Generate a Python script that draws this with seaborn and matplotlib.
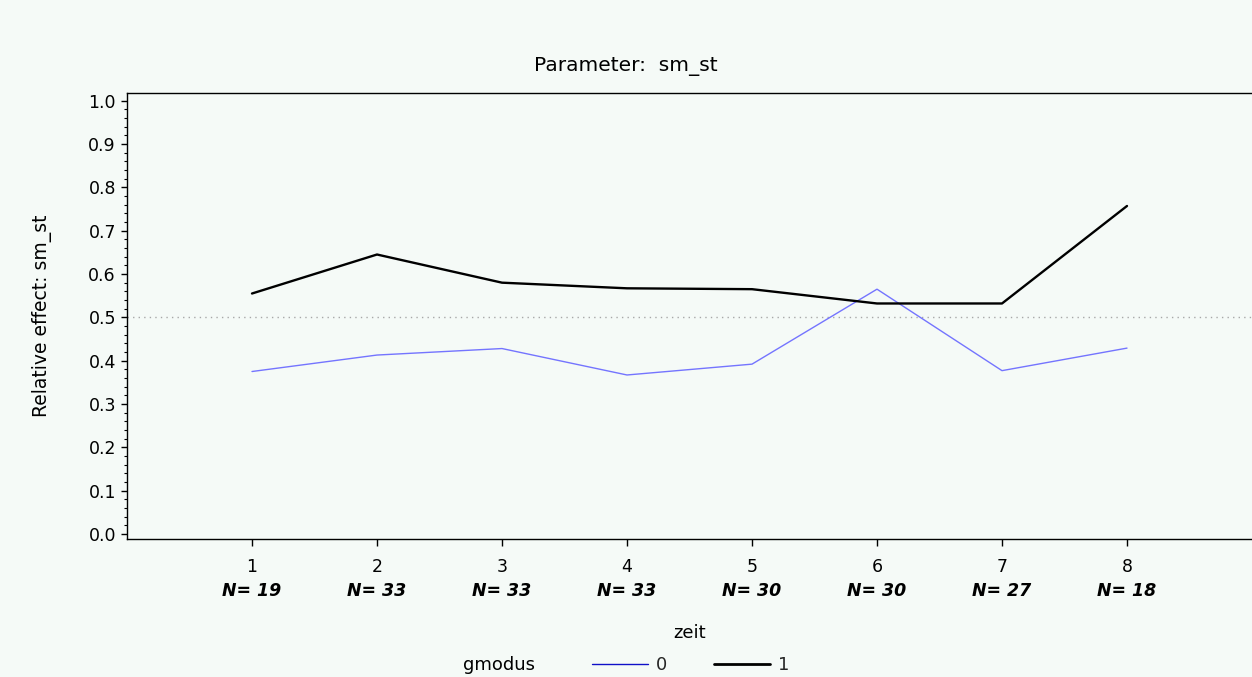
import pandas as pd
import numpy as np
import matplotlib
matplotlib.use('Agg')
import matplotlib.pyplot as plt
import matplotlib.transforms as mtransforms
from matplotlib.lines import Line2D
from matplotlib.ticker import MultipleLocator, AutoMinorLocator
import seaborn as sns

# Data
zeit = [1, 2, 3, 4, 5, 6, 7, 8]
n_counts = [19, 33, 33, 33, 30, 30, 27, 18]
effect_g0 = [0.375, 0.413, 0.428, 0.367, 0.392, 0.565, 0.377, 0.429]
effect_g1 = [0.555, 0.645, 0.580, 0.567, 0.565, 0.532, 0.532, 0.757]
y_ticks = [0.0, 0.1, 0.2, 0.3, 0.4, 0.5, 0.6, 0.7, 0.8, 0.9, 1.0]

df = pd.DataFrame({
    'zeit': zeit * 2,
    'effect': effect_g0 + effect_g1,
    'gmodus': ['0'] * len(zeit) + ['1'] * len(zeit),
})

bg = '#f5faf7'
sns.set_theme(style='ticks')
plt.rcParams['font.family'] = ['DejaVu Sans']

fig = plt.figure(figsize=(12.52, 6.77), dpi=100, facecolor=bg)
ax = fig.add_axes([127 / 1252, 1 - 539 / 677, 1 - 127 / 1252, (539 - 93) / 677])
ax.set_facecolor(bg)

palette = {'0': '#7474ff', '1': '#000000'}
sns.lineplot(data=df, x='zeit', y='effect', hue='gmodus', size='gmodus',
             sizes={'0': 1.0, '1': 1.7}, palette=palette, legend=False, ax=ax)

# reference line at 0.5
ax.axhline(0.5, color='#a8a8a8', linestyle=(0, (1, 3)), linewidth=1, zorder=0)

ax.set_xlim(0, 9)
ax.set_ylim(-0.0115, 1.0177)
ax.set_xticks(zeit)
ax.set_xticklabels([str(z) for z in zeit])
ax.set_yticks(y_ticks)
ax.set_yticklabels([f'{v:.1f}' for v in y_ticks])
ax.yaxis.set_minor_locator(AutoMinorLocator(5))

for s in ['left', 'top', 'bottom']:
    ax.spines[s].set_color('black')
    ax.spines[s].set_linewidth(1.0)
ax.spines['right'].set_visible(False)

ax.tick_params(axis='y', which='major', direction='out', length=4, width=1,
               pad=4, labelsize=12.5, colors='black')
ax.tick_params(axis='y', which='minor', direction='out', length=2, width=0.8,
               colors='black')
ax.tick_params(axis='x', which='major', direction='out', length=5, width=1,
               pad=9, labelsize=12.5, colors='black')

# N labels under the tick numbers
trans = mtransforms.blended_transform_factory(ax.transData, ax.transAxes)
for z, n in zip(zeit, n_counts):
    ax.text(z, -0.1166, f'N= {n}', transform=trans, ha='center', va='center',
            fontsize=12.5, fontstyle='italic', fontweight='bold', color='black')

ax.set_xlabel('zeit', fontsize=13, color='black')
ax.xaxis.set_label_coords(0.5, -0.19)
ax.set_ylabel('Relative effect: sm_st', fontsize=13.5, color='black')
ax.yaxis.set_label_coords(-0.067, 0.5)

fig.text(626 / 1252, 1 - 66 / 677, 'Parameter:  sm_st', ha='center', va='center',
         fontsize=14.5, color='black')

# legend
fig.text(499 / 1252, 1 - 665 / 677, 'gmodus', ha='center', va='center',
         fontsize=13, color='black')
handles = [Line2D([], [], color='#1010c8', linewidth=1.0),
           Line2D([], [], color='black', linewidth=2.0)]
fig.legend(handles, ['0', '1'], loc='center left',
           bbox_to_anchor=(592 / 1252, 1 - 665 / 677), ncol=2, frameon=False,
           fontsize=13, handlelength=3.1, handletextpad=0.45, columnspacing=2.6,
           borderpad=0, borderaxespad=0)

fig.savefig('out.png', dpi=100, facecolor=bg)
